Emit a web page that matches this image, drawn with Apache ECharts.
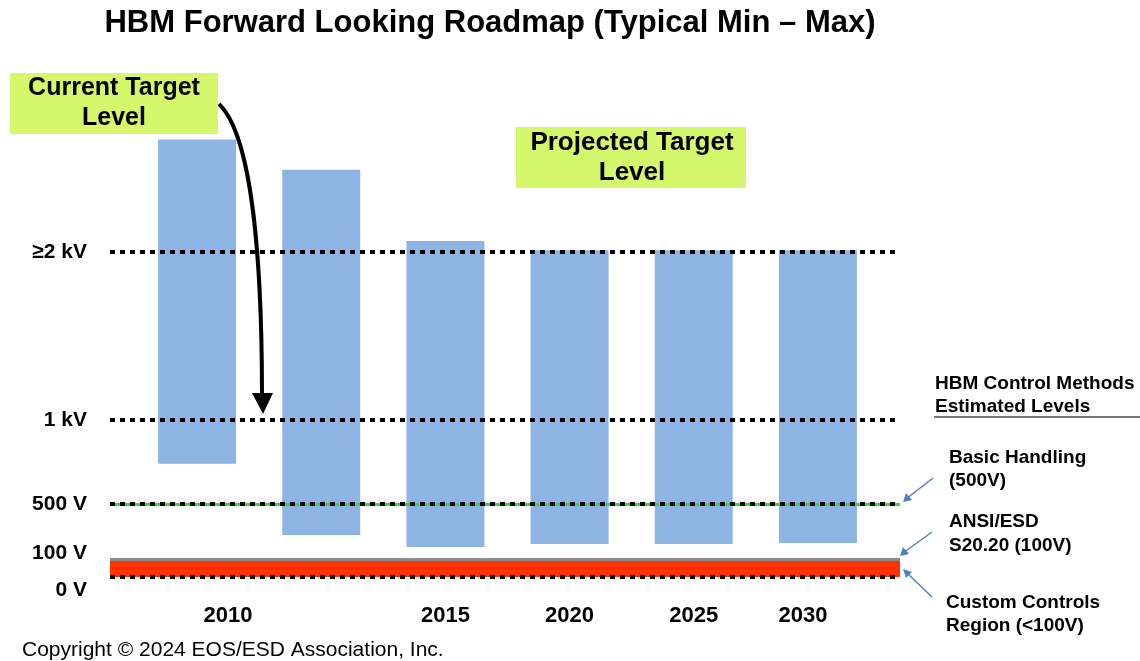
<!DOCTYPE html>
<html>
<head>
<meta charset="utf-8">
<script src="https://cdn.jsdelivr.net/npm/echarts@6/dist/echarts.min.js"></script>
<style>
  html, body { margin: 0; padding: 0; background: #fff; }
  #main { width: 1140px; height: 661px; }
</style>
</head>
<body>
<div id="main"></div>
<script>
// roadmap data (volts)
var years = ['2010', '', '2015', '2020', '2025', '2030'];
var minVolts = [740, 275, 187, 209, 209, 216];
var maxVolts = [2670, 2490, 2065, 2010, 2010, 2010];

// y axis tick labels
var tickVolts = [0, 100, 500, 1000, 2000];
var tickLabels = ['0 V', '100 V', '500 V', '1 kV', '≥2 kV'];

// control levels (volts)
var controlLevels = { custom: 100, basic: 500 };

// the slide's voltage scale is broken: piecewise linear between these points
var breakVolts = [0, 100, 500, 1000, 2000];
var breakUnits = [0, 18, 73, 157, 325];

function toAxis(v) {
  for (var i = 1; i < breakVolts.length; i++) {
    if (v <= breakVolts[i]) {
      var t = (v - breakVolts[i - 1]) / (breakVolts[i] - breakVolts[i - 1]);
      return breakUnits[i - 1] + t * (breakUnits[i] - breakUnits[i - 1]);
    }
  }
  var n = breakVolts.length - 1;
  var slope = (breakUnits[n] - breakUnits[n - 1]) / (breakVolts[n] - breakVolts[n - 1]);
  return breakUnits[n] + (v - breakVolts[n]) * slope;
}

var base = minVolts.map(function (v) { return toAxis(v); });
var span = maxVolts.map(function (v, i) { return toAxis(v) - toAxis(minVolts[i]); });
var tickPos = tickVolts.map(function (v) { return toAxis(v); });

var FONT = 'Liberation Sans, Arial, sans-serif';
var dotted = { color: '#000', width: 4, type: [5, 5] };

var myChart = echarts.init(document.getElementById('main'));
var option = {
  animation: false,
  title: {
    text: 'HBM Forward Looking Roadmap (Typical Min – Max)',
    left: 485,
    textAlign: 'center',
    top: 3,
    textStyle: { fontFamily: FONT, fontSize: 31, fontWeight: 'bold', color: '#000' }
  },
  grid: [
    { left: 135, right: 260, top: 77, bottom: 84 },
    { left: 110, right: 240, top: 77, bottom: 84 }
  ],
  xAxis: [
    {
      type: 'category',
      gridIndex: 0,
      data: years,
      axisLine: { show: false },
      axisTick: { show: false },
      axisLabel: {
        interval: 0,
        margin: 28,
        formatter: function (val, idx) {
          if (idx === 0) return '{a|' + val + '}';
          if (idx === years.length - 1) return '{c|' + val + '}';
          return '{b|' + val + '}';
        },
        rich: {
          a: { fontFamily: FONT, fontSize: 22, fontWeight: 'bold', color: '#000', padding: [0, 0, 0, 62] },
          b: { fontFamily: FONT, fontSize: 22, fontWeight: 'bold', color: '#000' },
          c: { fontFamily: FONT, fontSize: 22, fontWeight: 'bold', color: '#000', padding: [0, 30, 0, 0] }
        }
      }
    },
    { type: 'value', gridIndex: 1, min: 0, max: 1, show: false }
  ],
  yAxis: [
    { type: 'value', gridIndex: 0, min: 0, max: 500, show: false },
    {
      type: 'value',
      gridIndex: 1,
      min: 0,
      max: 500,
      axisLine: { show: false },
      axisTick: { show: false },
      splitLine: { show: false },
      axisLabel: {
        customValues: tickPos,
        margin: 23,
        formatter: function (val) {
          var k = 0;
          for (var i = 0; i < tickPos.length; i++) {
            if (Math.abs(tickPos[i] - val) < Math.abs(tickPos[k] - val)) k = i;
          }
          var key = ['z', 'h', 'n', 'n', 'n'][k];
          return '{' + key + '|' + tickLabels[k] + '}';
        },
        rich: {
          z: { fontFamily: FONT, fontSize: 21, fontWeight: 'bold', color: '#000', padding: [26, 0, 0, 0] },
          h: { fontFamily: FONT, fontSize: 21, fontWeight: 'bold', color: '#000', padding: [0, 0, 12, 0] },
          n: { fontFamily: FONT, fontSize: 21, fontWeight: 'bold', color: '#000' }
        }
      }
    }
  ],
  series: [
    {
      name: 'base',
      type: 'bar',
      xAxisIndex: 0,
      yAxisIndex: 0,
      stack: 'range',
      barWidth: 78,
      itemStyle: { color: 'transparent' },
      data: base
    },
    {
      name: 'Typical Min – Max',
      type: 'bar',
      xAxisIndex: 0,
      yAxisIndex: 0,
      stack: 'range',
      barWidth: 78,
      itemStyle: { color: '#8eb4e3' },
      data: span
    },
    {
      name: 'levels',
      type: 'line',
      xAxisIndex: 1,
      yAxisIndex: 1,
      z: 5,
      data: [],
      markArea: {
        silent: true,
        itemStyle: { color: '#ff3300' },
        data: [[{ yAxis: toAxis(0) }, { yAxis: toAxis(controlLevels.custom) - 0.4 }]]
      },
      markLine: {
        silent: true,
        symbol: 'none',
        label: { show: false },
        data: [
          { yAxis: toAxis(2000), lineStyle: dotted },
          { yAxis: toAxis(1000), lineStyle: dotted },
          { yAxis: toAxis(controlLevels.basic), lineStyle: { color: '#2ee02e', width: 3, type: 'solid' } },
          { yAxis: toAxis(controlLevels.basic), lineStyle: { color: '#000', width: 4, type: [5, 5], dashOffset: 0 } },
          { yAxis: toAxis(controlLevels.custom), lineStyle: { color: '#8c8c8c', width: 3, type: 'solid' } },
          { yAxis: toAxis(0), lineStyle: dotted }
        ]
      }
    }
  ],
  graphic: [
    // callout boxes
    {
      type: 'rect', left: 10, top: 73, shape: { width: 208, height: 61 },
      style: { fill: '#d4f76b' }
    },
    {
      type: 'text', x: 114, y: 73,
      style: {
        text: 'Current Target\nLevel', align: 'center', verticalAlign: 'top', fill: '#000',
        font: 'bold 25px ' + FONT, lineHeight: 30
      }
    },
    {
      type: 'rect', left: 516, top: 127, shape: { width: 230, height: 61 },
      style: { fill: '#d4f76b' }
    },
    {
      type: 'text', x: 632, y: 128,
      style: {
        text: 'Projected Target\nLevel', align: 'center', verticalAlign: 'top', fill: '#000',
        font: 'bold 26px ' + FONT, lineHeight: 30
      }
    },
    // curved arrow from current target to 1 kV
    {
      type: 'bezierCurve',
      shape: { x1: 219, y1: 104, cpx1: 252, cpy1: 135, cpx2: 262, cpy2: 260, x2: 262, y2: 396 },
      style: { stroke: '#000', lineWidth: 4, fill: null }
    },
    {
      type: 'polygon',
      shape: { points: [[252, 393], [273, 393], [263, 414]] },
      style: { fill: '#000' }
    },
    // right-hand legend
    {
      type: 'text', x: 935, y: 372,
      style: {
        text: 'HBM Control Methods\nEstimated Levels', fill: '#000', verticalAlign: 'top',
        font: 'bold 19px ' + FONT, lineHeight: 23
      }
    },
    {
      type: 'line', shape: { x1: 934, y1: 417, x2: 1140, y2: 417 },
      style: { stroke: '#777', lineWidth: 2 }
    },
    {
      type: 'text', x: 949, y: 446,
      style: {
        text: 'Basic Handling\n(500V)', fill: '#000', verticalAlign: 'top',
        font: 'bold 19px ' + FONT, lineHeight: 23
      }
    },
    {
      type: 'text', x: 949, y: 510,
      style: {
        text: 'ANSI/ESD\nS20.20 (100V)', fill: '#000', verticalAlign: 'top',
        font: 'bold 19px ' + FONT, lineHeight: 24
      }
    },
    {
      type: 'text', x: 946, y: 591,
      style: {
        text: 'Custom Controls\nRegion (<100V)', fill: '#000', verticalAlign: 'top',
        font: 'bold 19px ' + FONT, lineHeight: 23
      }
    },
    // blue pointer arrows
    { type: 'line', shape: { x1: 933, y1: 478, x2: 906, y2: 499 }, style: { stroke: '#4f81bd', lineWidth: 1.5 } },
    { type: 'polygon', shape: { points: [[903, 502], [906, 493], [912, 500]] }, style: { fill: '#4f81bd' } },
    { type: 'line', shape: { x1: 932, y1: 532, x2: 903, y2: 553 }, style: { stroke: '#4f81bd', lineWidth: 1.5 } },
    { type: 'polygon', shape: { points: [[900, 556], [903, 547], [909, 554]] }, style: { fill: '#4f81bd' } },
    { type: 'line', shape: { x1: 932, y1: 597, x2: 906, y2: 572 }, style: { stroke: '#4f81bd', lineWidth: 1.5 } },
    { type: 'polygon', shape: { points: [[903, 569], [912, 572], [906, 578]] }, style: { fill: '#4f81bd' } },
    // footer
    {
      type: 'text', x: 22, y: 650,
      style: { text: 'Copyright © 2024 EOS/ESD Association, Inc.', fill: '#000', verticalAlign: 'middle', font: '21px ' + FONT }
    }
  ]
};
myChart.setOption(option);
window.addEventListener('resize', function () {
  myChart.resize();
});
</script>
</body>
</html>
